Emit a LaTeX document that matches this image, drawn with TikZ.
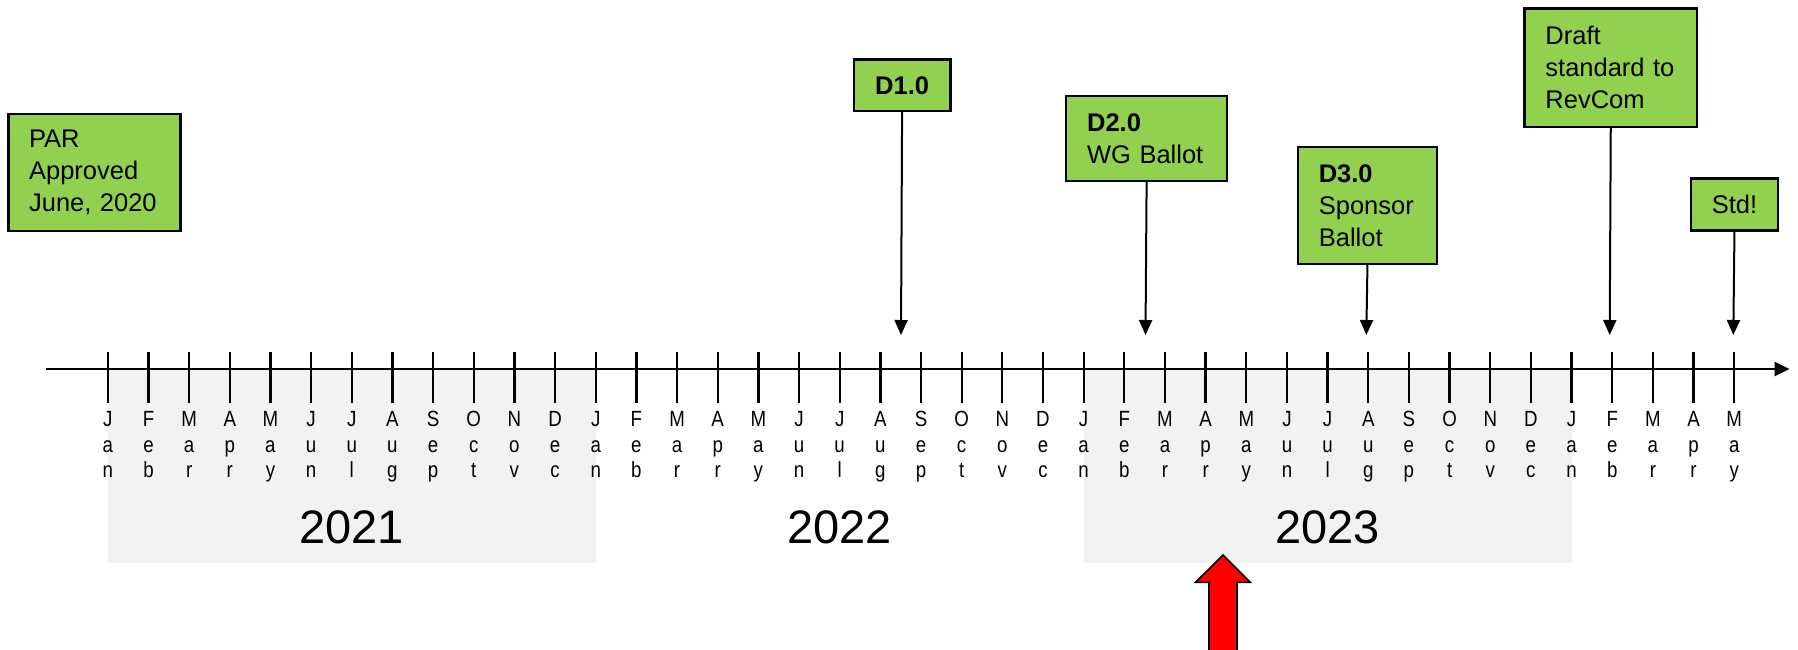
\documentclass[tikz,border=0pt]{standalone}
\usepackage{fontspec}
\setmainfont{Liberation Sans}
\newfontfamily\monthfont[FakeStretch=0.85]{Liberation Sans}
\usetikzlibrary{arrows.meta}
\definecolor{boxgreen}{HTML}{92D050}
\definecolor{bandgray}{HTML}{F2F2F2}
\definecolor{arrowred}{HTML}{FF0000}
\begin{document}
\begin{tikzpicture}[x=1pt,y=-1pt,
  mbox/.style={draw=black, line width=2.2pt, fill=boxgreen, anchor=north west,
    font=\fontsize{25.5}{32}\selectfont, align=left, inner ysep=0pt},
  cbox/.style={draw=black, line width=2.2pt, fill=boxgreen, anchor=north west,
    font=\fontsize{25.5}{32}\selectfont, align=center, inner sep=0pt},
  conn/.style={line width=2pt, -{Triangle[length=15pt,width=13pt]}},
  axisline/.style={line width=2.5pt, -{Triangle[length=15pt,width=14pt]}},
  tickline/.style={line width=2.3pt},
  month/.style={font=\monthfont\fontsize{22}{25.5}\selectfont, align=center, inner sep=0pt, anchor=north},
  yearlabel/.style={font=\fontsize{47}{50}\selectfont, anchor=base, inner sep=0pt},
  band/.style={fill=bandgray},
  bigarrow/.style={fill=arrowred, draw=black, line width=1.6pt, line join=miter}
]
\useasboundingbox (0,0) rectangle (1798,649);
\clip (0,0) rectangle (1798,649);

% year bands
\fill[band] (107.8,369) rectangle (595.8,562.7);
\fill[band] (1083.6,369) rectangle (1571.5,562.7);

% axis
\coordinate (axL) at (45.6,369);
\coordinate (axR) at (1789.5,369);
\draw[axisline] (axL) -- (axR);

% ticks and month labels
\foreach \a/\b/\c [count=\i from 0] in {
  J/a/n,F/e/b,M/a/r,A/p/r,M/a/y,J/u/n,J/u/l,A/u/g,S/e/p,O/c/t,N/o/v,D/e/c,
  J/a/n,F/e/b,M/a/r,A/p/r,M/a/y,J/u/n,J/u/l,A/u/g,S/e/p,O/c/t,N/o/v,D/e/c,
  J/a/n,F/e/b,M/a/r,A/p/r,M/a/y,J/u/n,J/u/l,A/u/g,S/e/p,O/c/t,N/o/v,D/e/c,
  J/a/n,F/e/b,M/a/r,A/p/r,M/a/y}{
  \pgfmathsetmacro\tx{107.8+40.66*\i}
  \draw[tickline] (\tx,351.7) -- (\tx,402.7);
  \node[month] (m\i) at (\tx,411.2) {\a\\\b\\\c};
}

% year labels
\node[yearlabel] (y2021) at (351.8,543) {2021};
\node[yearlabel] (y2022) at (839.7,543) {2022};
\node[yearlabel] (y2023) at (1327.6,543) {2023};

% milestone boxes
\node[mbox, minimum width=172pt, minimum height=117.3pt, text width=130.6pt, inner xsep=20.7pt]
  (par) at (7.3,112.7) {PAR\\Approved\\June, 2020};
\node[cbox, minimum width=96.6pt, minimum height=51.7pt] (d1) at (852.7,58.3) {\textbf{D1.0}};
\node[mbox, minimum width=161pt, minimum height=85pt, text width=119pt, inner xsep=21pt]
  (d2) at (1065,95) {\textbf{D2.0}\\WG Ballot};
\node[mbox, minimum width=139.3pt, minimum height=116.7pt, text width=97.3pt, inner xsep=21pt]
  (d3) at (1296.7,146) {\textbf{D3.0}\\Sponsor\\Ballot};
\node[mbox, minimum width=172.7pt, minimum height=118.4pt, text width=130.7pt, inner xsep=21pt]
  (rev) at (1523.3,7.3) {Draft\\standard to\\RevCom};
\node[cbox, minimum width=86.7pt, minimum height=52pt] (std) at (1690,177.3) {Std!};

% arrow tips on the axis
\coordinate (t1) at (901,335);
\coordinate (t2) at (1145.5,335);
\coordinate (t3) at (1366.3,335);
\coordinate (t4) at (1609.7,335);
\coordinate (t5) at (1733.3,335);
\draw[conn] (d1.south) -- (t1);
\draw[conn] (d2.south) -- (t2);
\draw[conn] (d3.south) -- (t3);
\draw[conn] (rev.south) -- (t4);
\draw[conn] (std.south) -- (t5);

% red "now" arrow
\draw[bigarrow] (1223,555) -- (1250.4,582.3) -- (1237,582.3) -- (1237,660) -- (1209,660)
  -- (1209,582.3) -- (1195.5,582.3) -- cycle;
\end{tikzpicture}
\end{document}
